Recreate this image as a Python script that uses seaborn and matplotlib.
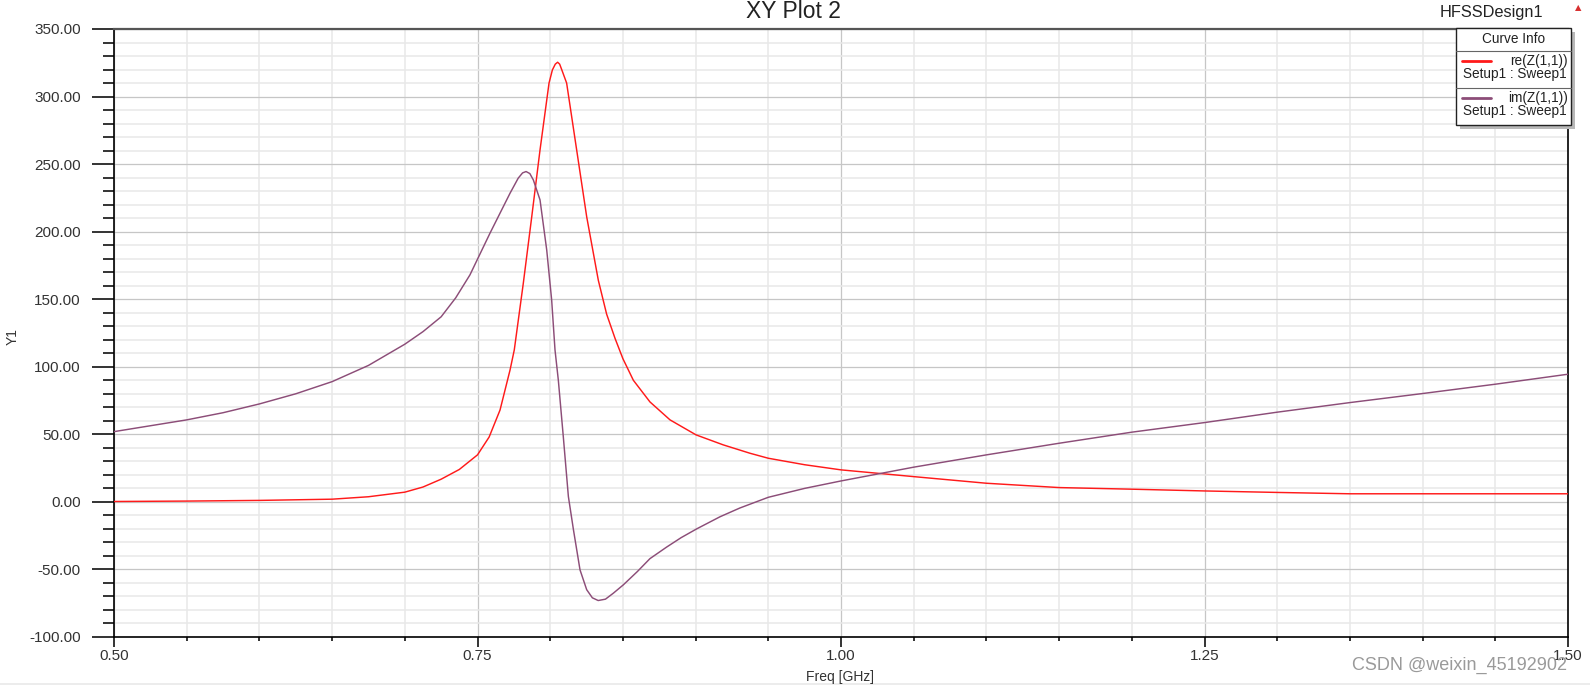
import matplotlib
matplotlib.use("Agg")
import matplotlib.pyplot as plt
import matplotlib.ticker as mticker
from matplotlib.patches import Rectangle
from matplotlib.lines import Line2D
import seaborn as sns
import pandas as pd

# ---- data ----
re_freq = [0.50, 0.55, 0.60, 0.65, 0.675, 0.70, 0.7125, 0.725, 0.7375, 0.75, 0.758, 0.7655,
           0.7724, 0.7753, 0.7815, 0.7873, 0.793, 0.7992, 0.8015, 0.8035, 0.8051, 0.8065,
           0.8079, 0.8113, 0.8182, 0.8251, 0.8331, 0.8388, 0.8446, 0.85, 0.8572, 0.8686,
           0.8824, 0.9003, 0.919, 0.9374, 0.95, 0.975, 1.00, 1.05, 1.10, 1.15, 1.20, 1.25,
           1.30, 1.35, 1.40, 1.45, 1.50]
re_vals = [0.3, 0.6, 1.1, 2.0, 3.8, 7.2, 11.0, 16.8, 24.0, 34.8, 48.0, 68.0,
           97.7, 112.5, 161.8, 211.0, 260.5, 310.0, 319.7, 324.0, 325.4, 324.0,
           320.0, 310.0, 260.5, 211.0, 164.0, 139.0, 121.0, 106.0, 90.0, 74.0,
           60.7, 49.6, 42.2, 36.0, 32.3, 27.5, 23.7, 18.7, 13.8, 10.6, 9.4, 8.1,
           7.0, 6.0, 6.0, 6.0, 6.0]

im_freq = [0.50, 0.55, 0.575, 0.60, 0.625, 0.65, 0.675, 0.70, 0.7125, 0.725, 0.735, 0.7448,
           0.7586, 0.7724, 0.778, 0.781, 0.7834, 0.786, 0.7884, 0.793, 0.7976, 0.801,
           0.8033, 0.8056, 0.809, 0.8125, 0.816, 0.8205, 0.8251, 0.829, 0.833, 0.838,
           0.8434, 0.8503, 0.86, 0.8686, 0.88, 0.89, 0.9007, 0.9168, 0.9305, 0.95, 0.975,
           1.00, 1.05, 1.10, 1.15, 1.20, 1.25, 1.30, 1.35, 1.40, 1.45, 1.50]
im_vals = [52.0, 60.7, 66.0, 72.5, 80.0, 89.0, 101.0, 116.7, 126.0, 137.0, 151.0, 168.0,
           198.9, 228.5, 239.6, 243.5, 244.5, 243.0, 238.3, 223.5, 186.5, 149.5,
           112.5, 90.0, 48.4, 4.0, -20.7, -50.3, -65.0, -71.0, -73.0, -72.0,
           -67.6, -61.4, -51.5, -42.0, -33.5, -26.5, -20.0, -11.0, -4.5, 3.4, 10.0,
           15.5, 25.7, 34.8, 43.4, 51.6, 58.7, 66.4, 73.5, 80.2, 87.1, 94.5]

curve_names = ["re(Z(1,1))", "im(Z(1,1))"]
sweep_label = "Setup1 : Sweep1"
x_ticks = [0.50, 0.75, 1.00, 1.25, 1.50]
y_ticks = [-100, -50, 0, 50, 100, 150, 200, 250, 300, 350]

RED = "#ff1a1a"
PURPLE = "#8c4d78"

df = pd.concat([
    pd.DataFrame({"Freq": re_freq, "Y1": re_vals, "curve": curve_names[0]}),
    pd.DataFrame({"Freq": im_freq, "Y1": im_vals, "curve": curve_names[1]}),
])

sns.set_theme(style="white")
plt.rcParams["font.family"] = ["Liberation Sans", "DejaVu Sans"]

W, H = 1590, 685
fig = plt.figure(figsize=(W / 100, H / 100), dpi=100)
ax = fig.add_axes([114 / W, 1 - 637 / H, (1568 - 114) / W, (637 - 29) / H])

sns.lineplot(data=df, x="Freq", y="Y1", hue="curve", palette=[RED, PURPLE],
             estimator=None, sort=True, linewidth=1.05, legend=False, ax=ax, zorder=3)

ax.set_xlim(0.5, 1.5)
ax.set_ylim(-100, 350)
ax.xaxis.set_major_locator(mticker.FixedLocator(x_ticks))
ax.xaxis.set_minor_locator(mticker.MultipleLocator(0.05))
ax.yaxis.set_major_locator(mticker.FixedLocator(y_ticks))
ax.yaxis.set_minor_locator(mticker.MultipleLocator(10))
ax.xaxis.set_major_formatter(mticker.FormatStrFormatter("%.2f"))
ax.yaxis.set_major_formatter(mticker.FormatStrFormatter("%.2f"))

ax.grid(True, which="minor", color="#e8e8e8", linewidth=1.1, zorder=0)
ax.grid(True, which="major", color="#c6c6c6", linewidth=0.9, zorder=1)
ax.set_axisbelow(True)

ax.tick_params(axis="y", which="major", direction="out", length=16, width=1.2,
               color="#111111", labelsize=11, labelcolor="#333333", pad=8, left=True)
ax.tick_params(axis="y", which="minor", direction="out", length=8, width=1.2,
               color="#111111", left=True)
ax.tick_params(axis="x", which="major", direction="out", length=7, width=1.2,
               color="#111111", labelsize=11, labelcolor="#333333", pad=2, bottom=True)
ax.tick_params(axis="x", which="minor", direction="out", length=3, width=1.2,
               color="#111111", bottom=True)

for side in ["left", "bottom", "right"]:
    ax.spines[side].set_color("#000000")
    ax.spines[side].set_linewidth(1.2)
ax.spines["top"].set_color("#555555")
ax.spines["top"].set_linewidth(1.6)

ax.set_xlabel("Freq [GHz]", fontsize=10, color="#333333", labelpad=2)
ax.set_ylabel("Y1", fontsize=10, color="#333333", labelpad=2)
ax.xaxis.set_label_coords((840 - 114) / (1568 - 114), -(670 - 637) / (637 - 29))
ax.yaxis.set_label_coords(-(114 - 20) / (1568 - 114), (637 - 337) / (637 - 29))

# titles
fig.text(793 / W, 1 - 12 / H, "XY Plot 2", ha="center", va="center", fontsize=16.5, color="#222222")
fig.text(1491 / W, 1 - 12 / H, "HFSSDesign1", ha="center", va="center", fontsize=11.8, color="#222222")
fig.text(1578 / W, 1 - 8 / H, "▲", ha="center", va="center", fontsize=6, color="#d83030",
         family=["DejaVu Sans"])

# legend box ("Curve Info")
def fx(x):
    return x / W

def fy(y):
    return 1 - y / H

bx0, bx1, by0, by1 = 1456, 1571, 28, 125
fig.add_artist(Rectangle((fx(bx0 + 4), fy(by1 + 4)), (bx1 - bx0) / W, (by1 - by0) / H,
                         transform=fig.transFigure, facecolor="#b8b8b8", edgecolor="none", zorder=5))
fig.add_artist(Rectangle((fx(bx0), fy(by1)), (bx1 - bx0) / W, (by1 - by0) / H,
                         transform=fig.transFigure, facecolor="white", edgecolor="#222222",
                         linewidth=1.0, zorder=6))
for ysep in [51, 88]:
    fig.add_artist(Line2D([fx(bx0), fx(bx1)], [fy(ysep), fy(ysep)], transform=fig.transFigure,
                          color="#666666", linewidth=0.8, zorder=7))
fig.text(fx((bx0 + bx1) / 2), fy(39), "Curve Info", ha="center", va="center", fontsize=9.8,
         color="#222222", zorder=8)
entries = [(RED, curve_names[0], 61, 74), (PURPLE, curve_names[1], 98, 111)]
for col, name, yl, ys in entries:
    fig.add_artist(Line2D([fx(1462), fx(1491)], [fy(yl), fy(yl)], transform=fig.transFigure,
                          color=col, linewidth=2.0, zorder=8))
    fig.text(fx(1568), fy(yl), name, ha="right", va="center", fontsize=9.8, color="#222222", zorder=8)
    fig.text(fx(1515), fy(ys), sweep_label, ha="center", va="center", fontsize=9.8,
             color="#222222", zorder=8)

# watermark + bottom strip
fig.text(1460 / W, 1 - 665 / H, "CSDN @weixin_45192902", ha="center", va="center",
         fontsize=13, color="#9a9a9a", zorder=9)
fig.add_artist(Rectangle((0, 0), 1, 2 / H, transform=fig.transFigure,
                         facecolor="#ececec", edgecolor="none", zorder=0))

fig.savefig("out.png", dpi=100)
